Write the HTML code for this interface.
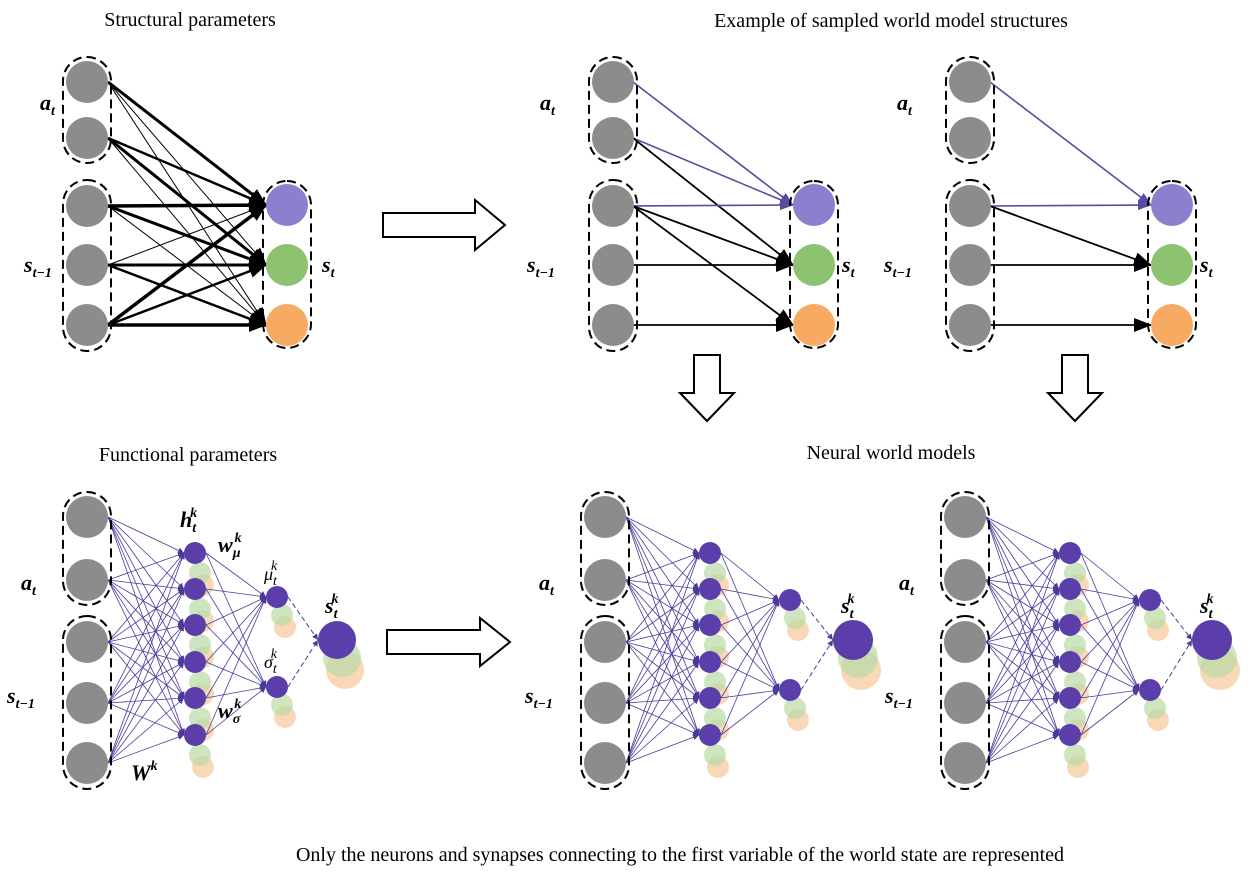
<!DOCTYPE html>
<html><head><meta charset="utf-8"><style>
body{margin:0;background:#fff;width:1254px;height:873px;overflow:hidden}
svg{display:block}
text{font-family:"Liberation Serif",serif}
.l{font-weight:bold;font-style:italic;font-size:22px}
.t{font-size:20px}
</style></head><body>
<svg id="s" width="1254" height="873" xmlns="http://www.w3.org/2000/svg">
<defs>
<marker id="ab" markerWidth="8" markerHeight="8" refX="7" refY="4" orient="auto" markerUnits="userSpaceOnUse" viewBox="0 0 8 8"><path d="M0,0L8,4L0,8z" fill="#000"/></marker>
<marker id="abb" markerWidth="18" markerHeight="14" refX="17" refY="7" orient="auto" markerUnits="userSpaceOnUse"><path d="M0,0L18,7L0,14z" fill="#000"/></marker>
<marker id="ap" markerWidth="14" markerHeight="10" refX="13" refY="5" orient="auto" markerUnits="userSpaceOnUse"><path d="M0,0L14,5L0,10z" fill="#5a4aa0"/></marker>
<marker id="as" markerWidth="6" markerHeight="6" refX="6" refY="3" orient="auto" markerUnits="userSpaceOnUse"><path d="M0,0L6,3L0,6z" fill="#4a3a9a"/></marker>
</defs>
<text class="t" x="190" y="26" text-anchor="middle">Structural parameters</text>
<text class="t" x="891" y="27" text-anchor="middle">Example of sampled world model structures</text>
<text class="t" x="188" y="461" text-anchor="middle">Functional parameters</text>
<text class="t" x="891" y="459" text-anchor="middle">Neural world models</text>
<text class="t" x="680" y="861" text-anchor="middle">Only the neurons and synapses connecting to the first variable of the world state are represented</text>
<g id="g"></g>
<path d="M383,213H475V200L505,225L475,250V237H383Z" fill="#fff" stroke="#000" stroke-width="2"/>
<path d="M387,630H480V618L510,642L480,666V654H387Z" fill="#fff" stroke="#000" stroke-width="2"/>
<path d="M694,355H720V393H734L707,421L680,393H694Z" fill="#fff" stroke="#000" stroke-width="2"/>
<path d="M1062,355H1088V393H1102L1075,421L1048,393H1062Z" fill="#fff" stroke="#000" stroke-width="2"/>
</svg>
<script>
var g=document.getElementById('g'),NS='http://www.w3.org/2000/svg';
function el(t,a,p){var e=document.createElementNS(NS,t);for(var k in a)e.setAttribute(k,a[k]);(p||g).appendChild(e);return e;}
function txt(x,y,s,sub,sup,size,cls){var t=el('text',{x:x,y:y,'class':cls||'l'});if(size)t.setAttribute('font-size',size);t.textContent=s;
 if(sub){var a=el('tspan',{dy:5,'font-size':14},t);a.textContent=sub;}
 if(sup){var b=el('tspan',{dx:sub?-6:0,dy:sub?-15:-10,'font-size':14},t);b.textContent=sup;}}
var iy=[82,138,206,265,325],oy=[205,265,325],oc=['#8b7fce','#8cc270','#f7ab62'];
function inputs(x,ys,top){el('rect',{x:x-24,y:ys[0]-25,width:48,height:ys[1]-ys[0]+50,rx:24,fill:'none',stroke:'#000','stroke-width':2,'stroke-dasharray':'9,5'});
 el('rect',{x:x-24,y:ys[2]-26,width:48,height:ys[4]-ys[2]+52,rx:24,fill:'none',stroke:'#000','stroke-width':2,'stroke-dasharray':'9,5'});
 ys.forEach(function(y){el('circle',{cx:x,cy:y,r:21,fill:'#8c8c8c'});});}
function outputs(x){el('rect',{x:x-24,y:181,width:48,height:167,rx:24,fill:'none',stroke:'#000','stroke-width':2,'stroke-dasharray':'9,5'});
 oy.forEach(function(y,i){el('circle',{cx:x,cy:y,r:21,fill:oc[i]});});}
function line(x1,y1,x2,y2,c,w,m,d){var a={x1:x1,y1:y1,x2:x2,y2:y2,stroke:c,'stroke-width':w,'marker-end':'url(#'+m+')'};if(d)a['stroke-dasharray']=d;el('line',a);}
var W=[[3,1,1],[2.5,3,1],[3.5,3,1],[1,3,2.5],[3.5,2.5,3.5]];
for(var i=0;i<5;i++)for(var j=0;j<3;j++)line(108,iy[i],266,oy[j],'#000',W[i][j],'abb');
inputs(87,iy);outputs(287);
txt(40,110,'a','t');txt(24,272,'s','t−1');txt(322,272,'s','t');
function sample(xi,xo,edges){edges.forEach(function(e){var p=e[2];line(xi+20,iy[e[0]],xo-21,oy[e[1]],p?'#5a4aa0':'#000',p?1.6:1.8,p?'ap':'abb');});
 inputs(xi,iy);outputs(xo);txt(xi-73,110,'a','t');txt(xi-86,272,'s','t−1');txt(xo+28,272,'s','t');}
sample(613,814,[[0,0,1],[1,0,1],[1,1,0],[2,0,1],[2,1,0],[2,2,0],[3,1,0],[4,2,0]]);
sample(970,1172,[[0,0,1],[2,0,1],[2,1,0],[3,1,0],[4,2,0]]);
var by=[517,580,642,703,763],hy=[553,589,625,662,698,735];
function net(xi,xh,xm,my,sy,xs,ss){
 hy.forEach(function(y){el('circle',{cx:xh+8,cy:y+32,r:11,fill:'#f7c89a',opacity:.7});el('circle',{cx:xh+5,cy:y+20,r:11,fill:'#b9dca5',opacity:.7});});
 [my,sy].forEach(function(y){el('circle',{cx:xm+8,cy:y+30,r:11,fill:'#f7c89a',opacity:.7});el('circle',{cx:xm+5,cy:y+18,r:11,fill:'#b9dca5',opacity:.7});});
 el('circle',{cx:xs+8,cy:640+30,r:ss,fill:'#f7c89a',opacity:.7});el('circle',{cx:xs+5,cy:640+18,r:ss,fill:'#b9dca5',opacity:.7});
 by.forEach(function(a){hy.forEach(function(b){line(xi+21,a,xh-11,b,'#4a3a9a',0.8,'as');});});
 hy.forEach(function(b){[my,sy].forEach(function(c){line(xh+11,b,xm-11,c,'#4a3a9a',0.8,'as');});});
 line(xm+11,my,xs-ss,640,'#4a3a9a',1,'as','5,3');line(xm+11,sy,xs-ss,640,'#4a3a9a',1,'as','5,3');
 hy.forEach(function(y){el('circle',{cx:xh,cy:y,r:11,fill:'#5b3eaa'});});
 [my,sy].forEach(function(y){el('circle',{cx:xm,cy:y,r:11,fill:'#5b3eaa'});});
 el('circle',{cx:xs,cy:640,r:ss,fill:'#5b3eaa'});
 inputs(xi,by);txt(xi-66,590,'a','t');txt(xi-80,703,'s','t−1');txt(xs-12,613,'s','t','k');}
net(87,195,277,597,687,337,19);
net(605,710,790,600,690,853,20);
net(965,1070,1150,600,690,1212,20);
txt(180,527,'h','t','k');txt(218,552,'w','μ','k');txt(218,718,'w','σ','k');txt(131,780,'W','','k');
txt(264,580,'μ','t','k',18,'m');txt(264,668,'σ','t','k',18,'m');
document.querySelectorAll('text.m').forEach(function(t){t.setAttribute('font-style','italic');});
</script>
</body></html>
